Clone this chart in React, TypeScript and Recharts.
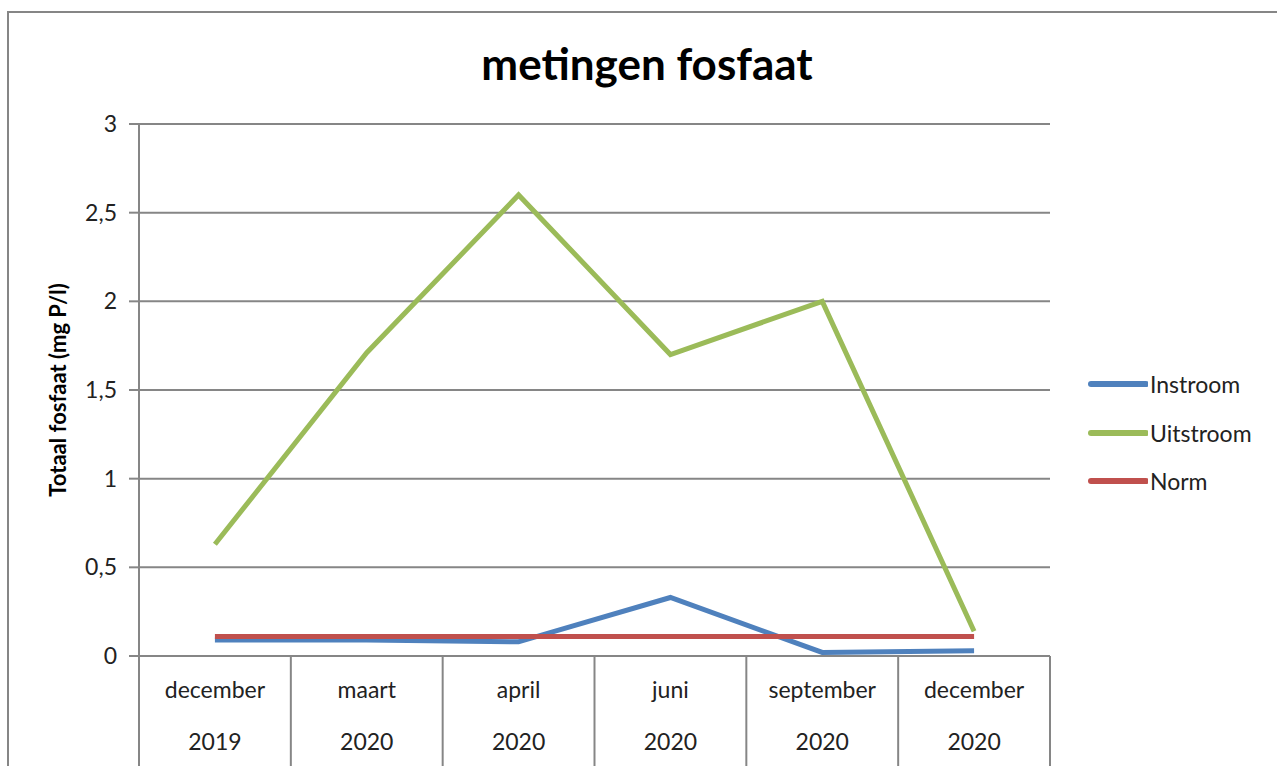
import React from "react";
import { ComposedChart, Line, XAxis, YAxis, CartesianGrid } from "recharts";

const months = ["december", "maart", "april", "juni", "september", "december"];
const years = ["2019", "2020", "2020", "2020", "2020", "2020"];
const instroom = [0.09, 0.09, 0.08, 0.33, 0.02, 0.03];
const uitstroom = [0.63, 1.71, 2.6, 1.7, 2.0, 0.14];
const norm = [0.11, 0.11, 0.11, 0.11, 0.11, 0.11];
const yTicks = [0, 0.5, 1, 1.5, 2, 2.5, 3];
const seriesNames = ["Instroom", "Uitstroom", "Norm"];
const seriesColors = ["#4F81BD", "#9BBB59", "#C0504D"];

const data = months.map((m, i) => ({
  key: `${m} ${years[i]}`,
  month: m,
  year: years[i],
  Instroom: instroom[i],
  Uitstroom: uitstroom[i],
  Norm: norm[i],
}));

const W = 1277;
const H = 766;
const X_AXIS_H = 110;
const M = { top: 124, right: 227, bottom: 0, left: 0 };
const Y_AXIS_W = 139;
const PLOT_W = W - M.left - M.right - Y_AXIS_W;
const BAND = PLOT_W / months.length;
const GRAY = "#868686";
const FONT = "Lato, 'Open Sans', sans-serif";

const XTick = (props: any) => {
  const { x, y, index, payload } = props;
  const d = data[index] || data.find((r) => r.key === payload.value);
  const left = x - BAND / 2;
  const right = x + BAND / 2;
  return (
    <g>
      <line x1={left} y1={y - 8} x2={left} y2={y + 110} stroke={GRAY} strokeWidth={2} />
      {index === months.length - 1 && (
        <line x1={right} y1={y - 8} x2={right} y2={y + 110} stroke={GRAY} strokeWidth={2} />
      )}
      <text x={x} y={y + 34} textAnchor="middle" fontSize={23} fill="#222" fontFamily={FONT}>
        {d ? d.month : ""}
      </text>
      <text x={x} y={y + 86} textAnchor="middle" fontSize={23} fill="#222" fontFamily={FONT}>
        {d ? d.year : ""}
      </text>
    </g>
  );
};

export default function App() {
  return (
    <div style={{ position: "absolute", left: 0, top: 0, width: W, height: H, background: "#fff", overflow: "hidden" }}>
      <div
        style={{
          position: "absolute",
          left: 7,
          top: 11,
          width: W,
          height: H,
          borderLeft: `2px solid ${GRAY}`,
          borderTop: `2px solid ${GRAY}`,
        }}
      />
      <div
        style={{
          position: "absolute",
          left: 0,
          top: 36,
          width: 1294,
          textAlign: "center",
          fontFamily: FONT,
          fontWeight: "bold",
          fontSize: 44,
          color: "#000",
          lineHeight: "54px",
        }}
      >
        metingen fosfaat
      </div>
      <div style={{ position: "absolute", left: 1086, top: 360, fontFamily: FONT, fontSize: 23, color: "#222" }}>
        {seriesNames.map((n, i) => (
          <div key={n} style={{ display: "flex", alignItems: "center", height: 48.5 }}>
            <svg width={62} height={10}>
              <line x1={5} y1={5} x2={60} y2={5} stroke={seriesColors[i]} strokeWidth={6} strokeLinecap="round" />
            </svg>
            <span style={{ marginLeft: 2 }}>{n}</span>
          </div>
        ))}
      </div>
      <ComposedChart width={W} height={H} data={data} margin={M} style={{ position: "absolute", left: 0, top: 0 }}>
        <CartesianGrid vertical={false} stroke={GRAY} strokeWidth={2} />
        <XAxis
          dataKey="key"
          interval={0}
          tick={<XTick />}
          tickLine={false}
          padding={{ left: BAND / 2, right: BAND / 2 }}
          axisLine={{ stroke: GRAY, strokeWidth: 2 }}
          height={X_AXIS_H}
        />
        <YAxis
          width={Y_AXIS_W}
          domain={[0, 3]}
          ticks={yTicks}
          interval={0}
          tickFormatter={(v: number) => String(v).replace(".", ",")}
          tick={{ fontSize: 23, fill: "#222", fontFamily: FONT }}
          tickSize={10}
          tickMargin={12}
          tickLine={{ stroke: GRAY, strokeWidth: 2 }}
          axisLine={{ stroke: GRAY, strokeWidth: 2 }}
          label={{
            value: "Totaal fosfaat (mg P/l)",
            angle: -90,
            position: "insideLeft",
            offset: 58,
            style: { fontSize: 22, fontWeight: "bold", fill: "#000", fontFamily: FONT, textAnchor: "middle" },
          }}
        />
        {seriesNames.map((n, i) => (
          <Line
            key={n}
            type="linear"
            dataKey={n}
            stroke={seriesColors[i]}
            strokeWidth={5}
            dot={false}
            isAnimationActive={false}
          />
        ))}
      </ComposedChart>
    </div>
  );
}
